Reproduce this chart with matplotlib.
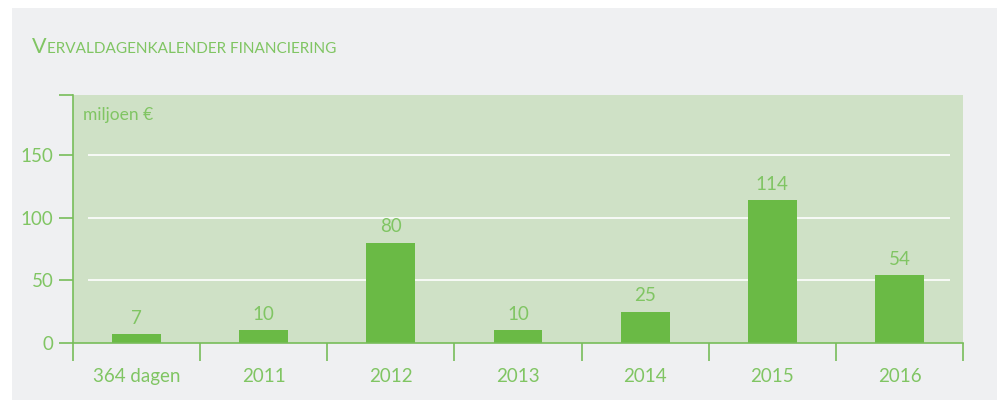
import matplotlib
matplotlib.use('Agg')
import matplotlib.pyplot as plt
from matplotlib.patches import Rectangle

plt.rcParams['font.family'] = ['Lato', 'DejaVu Sans']

categories = ['364 dagen', '2011', '2012', '2013', '2014', '2015', '2016']
values = [7, 10, 80, 10, 25, 114, 54]
yticks = [0, 50, 100, 150]

BAR = '#6aba45'
PLOT_BG = '#cfe1c6'
PANEL = '#eff0f2'
TEXT = '#80c563'
LINE = '#78bd5a'

fig = plt.figure(figsize=(10.02, 4.0), dpi=100)
fig.patch.set_facecolor('white')
fig.patches.append(Rectangle((12 / 1002, 0), 985 / 1002, 392 / 400,
                             transform=fig.transFigure, facecolor=PANEL,
                             edgecolor='none', zorder=-10))

ax = fig.add_axes([73 / 1002, 1 - 343 / 400, 890 / 1002, 248 / 400])
ax.set_facecolor(PLOT_BG)

x = list(range(len(categories)))
ax.set_xlim(-0.5, len(categories) - 0.5)
ax.set_ylim(0, 198)

ax.hlines(yticks[1:], -0.38, 6.4, colors='white', linewidth=1.2, zorder=1)
ax.bar(x, values, width=0.385, color=BAR, zorder=2)
for xi, v in zip(x, values):
    ax.text(xi, v + 6, str(v), ha='center', va='bottom', color=TEXT,
            fontsize=13.5)

for s in ['top', 'right']:
    ax.spines[s].set_visible(False)
for s in ['left', 'bottom']:
    ax.spines[s].set_color(LINE)
    ax.spines[s].set_linewidth(1.2)

ax.set_yticks(yticks)
ax.set_yticklabels([str(t) for t in yticks])
ax.set_yticks([198], minor=True)
ax.tick_params(axis='y', which='both', length=10, width=1.2, color=LINE,
               labelcolor=TEXT, labelsize=13.5, pad=4)

ax.set_xticks(x)
ax.set_xticklabels(categories)
ax.set_xticks([i - 0.5 for i in range(len(categories) + 1)], minor=True)
ax.tick_params(axis='x', which='major', length=0, labelcolor=TEXT,
               labelsize=13.5, pad=18)
ax.tick_params(axis='x', which='minor', length=13, width=1.2, color=LINE)

ax.text(10 / 890, 1 - 12 / 248, 'miljoen €', transform=ax.transAxes,
        ha='left', va='top', color=TEXT, fontsize=12.5)

# small caps title
t1 = fig.text(32 / 1002, 1 - 53 / 400, 'V', color=TEXT, fontsize=15.5,
              ha='left', va='baseline')
fig.canvas.draw()
bb = t1.get_window_extent(renderer=fig.canvas.get_renderer())
fig.text(bb.x1 / 1002 + 0.5 / 1002, 1 - 53 / 400,
         'ERVALDAGENKALENDER FINANCIERING', color=TEXT, fontsize=11,
         ha='left', va='baseline')

fig.savefig('out.png', dpi=100, facecolor=fig.get_facecolor())
